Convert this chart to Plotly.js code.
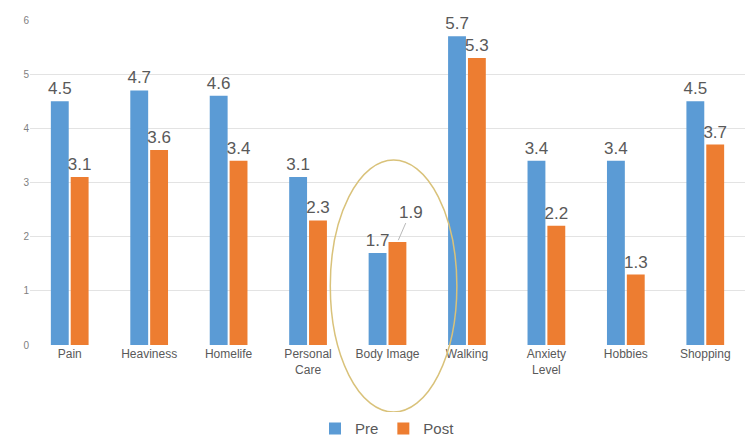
<!DOCTYPE html>
<html><head><meta charset="utf-8">
<script src="https://cdn.plot.ly/plotly-3.0.1.min.js"></script>
<style>html,body{margin:0;padding:0;background:#fff}#chart{width:750px;height:439px}</style>
</head><body><div id="chart"></div>
<script>
var categories = ["Pain","Heaviness","Homelife","Personal<br>Care","Body Image","Walking","Anxiety<br>Level","Hobbies","Shopping"];
var preValues = [4.5,4.7,4.6,3.1,1.7,5.7,3.4,3.4,4.5];
var postValues = [3.1,3.6,3.4,2.3,1.9,5.3,2.2,1.3,3.7];
var yTicks = [0,1,2,3,4,5,6];
var calloutIndex = 4; // Body Image post label drawn with a leader line

var fontFam = '"Liberation Sans", Arial, sans-serif';
var postText = postValues.map(function(v,i){return i===calloutIndex ? '' : v.toFixed(1);});
var traces = [
  {type:'bar', name:'Pre', x:categories, y:preValues, marker:{color:'#5b9bd5'},
   text:preValues.map(function(v){return v.toFixed(1);}), textposition:'outside', constraintext:'none',
   textfont:{size:17,color:'#595959',family:fontFam}, cliponaxis:false, hoverinfo:'none'},
  {type:'bar', name:'Post', x:categories, y:postValues, marker:{color:'#ed7d31'},
   text:postText, textposition:'outside', constraintext:'none',
   textfont:{size:17,color:'#595959',family:fontFam}, cliponaxis:false, hoverinfo:'none'}
];
var layout = {
  width:750, height:439,
  margin:{l:30,r:5,t:20,b:94,autoexpand:false},
  paper_bgcolor:'#fff', plot_bgcolor:'#fff',
  barmode:'group', bargap:0.5, bargroupgap:0.1,
  font:{family:fontFam,color:'#595959'},
  xaxis:{tickfont:{size:12,color:'#595959'}, showline:false, zeroline:false, showgrid:false, ticks:'', automargin:false},
  yaxis:{range:[0,6], tickvals:yTicks, tickfont:{size:10,color:'#7f7f7f'}, gridcolor:'#e3e3e3', gridwidth:1,
         zeroline:false, showline:false, ticks:'', automargin:false},
  showlegend:true,
  legend:{orientation:'h', x:0.5, xanchor:'center', y:-0.258, yanchor:'middle',
          font:{size:15,color:'#595959'}, itemwidth:30, traceorder:'normal'},
  annotations:[{x:categories[calloutIndex], y:postValues[calloutIndex], xref:'x', yref:'y', xshift:10,
                text:postValues[calloutIndex].toFixed(1), showarrow:true, arrowhead:0, arrowwidth:0.8,
                arrowcolor:'#a6a6a6', ax:13, ay:-30, standoff:2,
                font:{size:17,color:'#595959',family:fontFam}}],
  shapes:[{type:'circle', xref:'paper', yref:'paper', x0:0.42, x1:0.597, y0:-0.206, y1:0.569,
           line:{color:'#d9c27a',width:1.5}, fillcolor:'rgba(0,0,0,0)', layer:'above'}]
};
Plotly.newPlot('chart', traces, layout, {displayModeBar:false, staticPlot:true});
</script></body></html>
